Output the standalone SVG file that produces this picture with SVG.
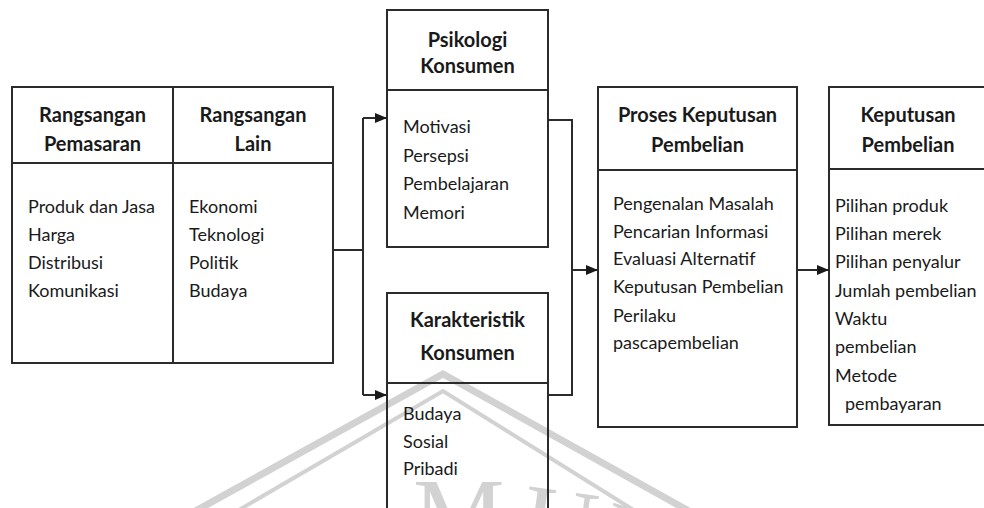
<svg xmlns="http://www.w3.org/2000/svg" width="984" height="508" viewBox="0 0 984 508">
<style>
.box{fill:none;stroke:#2b2b2b;stroke-width:2}
.div{stroke:#2b2b2b;stroke-width:2}
.hd{font-family:Lato,"Liberation Sans",sans-serif;font-weight:bold;font-size:20px;fill:#1a1a1a;text-anchor:middle}
.bd{font-family:Lato,"Liberation Sans",sans-serif;font-size:18px;fill:#1a1a1a}
.wm{fill:none;stroke:#d2d2d2}
.wmt{font-family:"Liberation Serif",serif;font-size:103px;fill:#d2d2d2}
.con{fill:none;stroke:#2b2b2b;stroke-width:2}
</style>
<defs>
<marker id="ah" markerUnits="userSpaceOnUse" markerWidth="12" markerHeight="10" refX="11" refY="5" orient="auto">
<path d="M0,0 L12,5 L0,10 Z" fill="#1a1a1a"/>
</marker>
</defs>
<rect width="984" height="508" fill="#ffffff"/>
<g id="watermark">
<path class="wm" stroke-width="7" d="M190,514 L443,374 L705,520"/>
<path class="wm" stroke-width="4" d="M232,514 L443,391 L640,514"/>
<text class="wmt" x="413 518 590" y="550 553 566" rotate="0 8 18">MUH</text>
</g>
<g id="rangsangan">
<rect class="box" x="12" y="87" width="321" height="276"/>
<line class="div" x1="173" y1="87" x2="173" y2="363"/>
<line class="div" x1="12" y1="163" x2="333" y2="163"/>
<text class="hd" x="92.5" y="122">Rangsangan</text>
<text class="hd" x="92.5" y="151">Pemasaran</text>
<text class="hd" x="253" y="122">Rangsangan</text>
<text class="hd" x="253" y="151">Lain</text>
<text class="bd" x="28" y="213">Produk dan Jasa</text>
<text class="bd" x="28" y="241">Harga</text>
<text class="bd" x="28" y="269">Distribusi</text>
<text class="bd" x="28" y="297">Komunikasi</text>
<text class="bd" x="189" y="213">Ekonomi</text>
<text class="bd" x="189" y="241">Teknologi</text>
<text class="bd" x="189" y="269">Politik</text>
<text class="bd" x="189" y="297">Budaya</text>
</g>
<g id="psikologi">
<rect class="box" x="387" y="10" width="161" height="237"/>
<line class="div" x1="387" y1="90" x2="548" y2="90"/>
<text class="hd" x="467.5" y="47">Psikologi</text>
<text class="hd" x="467.5" y="73">Konsumen</text>
<text class="bd" x="403" y="133">Motivasi</text>
<text class="bd" x="403" y="161.5">Persepsi</text>
<text class="bd" x="403" y="190">Pembelajaran</text>
<text class="bd" x="403" y="218.5">Memori</text>
</g>
<g id="karakteristik">
<rect class="box" x="387" y="293" width="161" height="230"/>
<line class="div" x1="387" y1="383" x2="548" y2="383"/>
<text class="hd" x="467.5" y="327">Karakteristik</text>
<text class="hd" x="467.5" y="360">Konsumen</text>
<text class="bd" x="403" y="420">Budaya</text>
<text class="bd" x="403" y="448">Sosial</text>
<text class="bd" x="403" y="475">Pribadi</text>
</g>
<g id="proses">
<rect class="box" x="598" y="87" width="199" height="340"/>
<line class="div" x1="598" y1="170" x2="797" y2="170"/>
<text class="hd" x="697.5" y="122">Proses Keputusan</text>
<text class="hd" x="697.5" y="152">Pembelian</text>
<text class="bd" x="613" y="210">Pengenalan Masalah</text>
<text class="bd" x="613" y="238">Pencarian Informasi</text>
<text class="bd" x="613" y="265">Evaluasi Alternatif</text>
<text class="bd" x="613" y="293">Keputusan Pembelian</text>
<text class="bd" x="613" y="322">Perilaku</text>
<text class="bd" x="613" y="349">pascapembelian</text>
</g>
<g id="keputusan">
<rect class="box" x="829" y="87" width="160" height="338"/>
<line class="div" x1="829" y1="169" x2="989" y2="169"/>
<text class="hd" x="908" y="122">Keputusan</text>
<text class="hd" x="908" y="152">Pembelian</text>
<text class="bd" x="835" y="212">Pilihan produk</text>
<text class="bd" x="835" y="240">Pilihan merek</text>
<text class="bd" x="835" y="268">Pilihan penyalur</text>
<text class="bd" x="835" y="297">Jumlah pembelian</text>
<text class="bd" x="835" y="325">Waktu</text>
<text class="bd" x="835" y="353">pembelian</text>
<text class="bd" x="835" y="382">Metode</text>
<text class="bd" x="845" y="410">pembayaran</text>
</g>
<g id="connectors">
<path class="con" d="M333,250 H363"/>
<path class="con" d="M363,118 V395"/>
<path class="con" d="M363,118 H386" marker-end="url(#ah)"/>
<path class="con" d="M363,395 H386" marker-end="url(#ah)"/>
<path class="con" d="M548,120 H572 V395 H548"/>
<path class="con" d="M572,270 H597" marker-end="url(#ah)"/>
<path class="con" d="M797,270 H828" marker-end="url(#ah)"/>
</g>
</svg>
